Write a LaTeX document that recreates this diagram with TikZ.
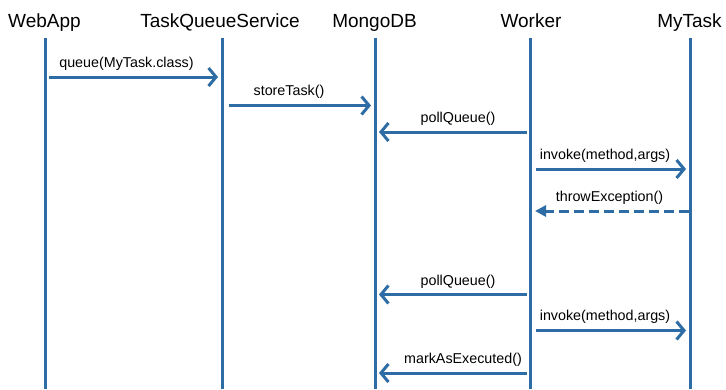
\documentclass[tikz,border=0pt]{standalone}
\usepackage{fontspec}
\setmainfont{Liberation Sans}
\usetikzlibrary{arrows.meta}
\definecolor{seqblue}{RGB}{46,108,166}
\begin{document}
\begin{tikzpicture}[x=1pt,y=-1pt,
  lifeline/.style={draw=seqblue,line width=3pt},
  msg/.style={draw=seqblue,line width=3pt,-{Straight Barb[length=7.5pt,width=18pt]},shorten <=3.5pt,shorten >=4pt},
  ret/.style={draw=seqblue,line width=3pt,dash pattern=on 10pt off 5pt,-{Triangle[length=11pt,width=11pt]},shorten <=1.5pt,shorten >=5pt},
  head/.style={font=\fontsize{19}{22}\selectfont,anchor=base,inner sep=0pt},
  lbl/.style={font=\fontsize{14.3}{16}\selectfont,anchor=base,inner sep=0pt}]
\useasboundingbox (0,0) rectangle (726,389);
% headers
\node[head] (hWA) at (44.5,27) {WebApp};
\node[head] (hTQ) at (220,27) {TaskQueueService};
\node[head] (hMD) at (374.5,27) {MongoDB};
\node[head] (hWK) at (531,27) {Worker};
\node[head] (hMT) at (689.5,27) {MyTask};
% lifelines
\coordinate (waT) at (45,37.5);  \coordinate (waB) at (45,389);
\coordinate (tqT) at (222,37.5); \coordinate (tqB) at (222,389);
\coordinate (mdT) at (375,37.5); \coordinate (mdB) at (375,389);
\coordinate (wkT) at (530,37.5); \coordinate (wkB) at (530,389);
\coordinate (mtT) at (690,37.5); \coordinate (mtB) at (690,389);
\draw[lifeline] (waT) -- (waB);
\draw[lifeline] (tqT) -- (tqB);
\draw[lifeline] (mdT) -- (mdB);
\draw[lifeline] (wkT) -- (wkB);
\draw[lifeline] (mtT) -- (mtB);
% message end points
\coordinate (m1a) at (45,77);   \coordinate (m1b) at (222,77);
\coordinate (m2a) at (222,105.5); \coordinate (m2b) at (375,105.5);
\coordinate (m3a) at (530,132); \coordinate (m3b) at (375,132);
\coordinate (m4a) at (530,169); \coordinate (m4b) at (690,169);
\coordinate (m5a) at (690,211); \coordinate (m5b) at (530,211);
\coordinate (m6a) at (530,294.5); \coordinate (m6b) at (375,294.5);
\coordinate (m7a) at (530,330.5); \coordinate (m7b) at (690,330.5);
\coordinate (m8a) at (530,373); \coordinate (m8b) at (375,373);
% messages
\draw[msg] (m1a) -- (m1b);
\draw[msg,shorten <=7pt] (m2a) -- (m2b);
\draw[msg] (m3a) -- (m3b);
\draw[msg,shorten <=6pt] (m4a) -- (m4b);
\draw[ret] (m5a) -- (m5b);
\draw[msg] (m6a) -- (m6b);
\draw[msg,shorten <=6pt] (m7a) -- (m7b);
\draw[msg] (m8a) -- (m8b);
% labels
\node[lbl] (l1) at (126.5,67) {queue(MyTask.class)};
\node[lbl] (l2) at (289,95.5) {storeTask()};
\node[lbl] (l3) at (458,122.5) {pollQueue()};
\node[lbl] (l4) at (605,159) {invoke(method,args)};
\node[lbl] (l5) at (609.5,201) {throwException()};
\node[lbl] (l6) at (458,285) {pollQueue()};
\node[lbl] (l7) at (605,320.5) {invoke(method,args)};
\node[lbl] (l8) at (463,363) {markAsExecuted()};
\end{tikzpicture}
\end{document}
